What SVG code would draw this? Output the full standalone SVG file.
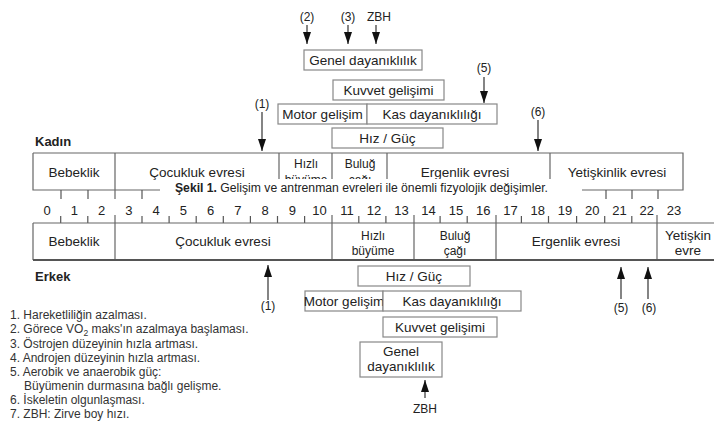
<svg xmlns="http://www.w3.org/2000/svg" width="714" height="429" viewBox="0 0 714 429">
  <defs>
    <marker id="arr" markerUnits="userSpaceOnUse" markerWidth="12" markerHeight="8" viewBox="0 0 12 8" refX="12" refY="4" orient="auto">
      <path d="M0,0 L12,4 L0,8 Z" fill="#111"/>
    </marker>
    <style>
      text { font-family: "Liberation Sans", Arial, sans-serif; fill: #222; }
      .box { fill: #fff; stroke: #888; stroke-width: 1.2; }
      .band { fill: none; stroke: #666; stroke-width: 1.2; }
      .tick { stroke: #555; stroke-width: 1.2; }
      .lbl { font-size: 13.5px; text-anchor: middle; }
      .bl { font-size: 13.5px; text-anchor: middle; }
      .bl2 { font-size: 12px; text-anchor: middle; }
      .num { font-size: 13px; text-anchor: middle; }
      .ref { font-size: 12px; text-anchor: middle; }
      .leg { font-size: 12px; fill: #333; }
      .sex { font-size: 13px; font-weight: bold; }
      .conn line { stroke: #333; stroke-width: 1.2; marker-end: url(#arr); }
    </style>
  </defs>
  <rect width="714" height="429" fill="#fff"/>

  <!-- Kadın (female) band -->
  <g id="band-kadin">
    <text class="sex" x="35" y="146">Kadın</text>
    <path class="band" d="M33,153 H683 V190 H582 M33,153 V190 H160 M115,153 V199 M279,153 V190 M332,153 V190 M387,153 V190 M550,153 V190"/>
    <text class="bl" x="74" y="177">Bebeklik</text>
    <text class="bl" x="197" y="177">Çocukluk evresi</text>
    <text class="bl2" x="306" y="168">Hızlı</text>
    <text class="bl2" x="306" y="184">büyüme</text>
    <text class="bl2" x="360" y="168">Buluğ</text>
    <text class="bl2" x="360" y="184">çağı</text>
    <text class="bl" x="465" y="177">Ergenlik evresi</text>
    <text class="bl" x="617" y="177">Yetişkinlik evresi</text>
    <path class="tick" d="M61,190 V199 M88,190 V199 M142,190 V199 M606,190 V199 M632,190 V199 M658,190 V199"/>
  </g>

  <!-- figure caption laid over the lower edge of the female band -->
  <g id="caption">
    <rect x="160" y="179" width="422" height="21" fill="#fff"/>
    <text x="175" y="192" font-size="12.5" textLength="373" lengthAdjust="spacingAndGlyphs"><tspan font-weight="bold">Şekil 1.</tspan>  Gelişim ve antrenman evreleri ile önemli fizyolojik değişimler.</text>
  </g>

  <!-- age axis -->
  <g id="axis">
    <text class="num" x="47" y="215">0</text>
    <text class="num" x="74.3" y="215">1</text>
    <text class="num" x="101.5" y="215">2</text>
    <text class="num" x="128.8" y="215">3</text>
    <text class="num" x="156" y="215">4</text>
    <text class="num" x="183.3" y="215">5</text>
    <text class="num" x="210.6" y="215">6</text>
    <text class="num" x="237.8" y="215">7</text>
    <text class="num" x="265.1" y="215">8</text>
    <text class="num" x="292.3" y="215">9</text>
    <text class="num" x="319.6" y="215">10</text>
    <text class="num" x="346.9" y="215">11</text>
    <text class="num" x="374.1" y="215">12</text>
    <text class="num" x="401.4" y="215">13</text>
    <text class="num" x="428.6" y="215">14</text>
    <text class="num" x="455.9" y="215">15</text>
    <text class="num" x="483.2" y="215">16</text>
    <text class="num" x="510.4" y="215">17</text>
    <text class="num" x="537.7" y="215">18</text>
    <text class="num" x="564.9" y="215">19</text>
    <text class="num" x="592.2" y="215">20</text>
    <text class="num" x="619.5" y="215">21</text>
    <text class="num" x="646.7" y="215">22</text>
    <text class="num" x="674" y="215">23</text>
    <path class="tick" d="M60.7,216 V223 M87.8,216 V223 M142,216 V223 M169.1,216 V223 M196.2,216 V223 M223.3,216 V223 M250.4,216 V223 M277.5,216 V223 M304.6,216 V223 M358.8,216 V223 M385.9,216 V223 M440.1,216 V223 M467.2,216 V223 M521.4,216 V223 M548.5,216 V223 M576.6,216 V223 M604.7,216 V223 M631.8,216 V223"/>
  </g>

  <!-- Erkek (male) band -->
  <g id="band-erkek">
    <path class="band" d="M33,223 H714 M33,223 V260 M115,215 V260 M332,215 V260 M414,215 V260 M496,215 V260 M657,215 V260"/>
    <path d="M33,260 H714" stroke="#555" stroke-width="1.8" fill="none"/>
    <text class="bl" x="74" y="246">Bebeklik</text>
    <text class="bl" x="223" y="246">Çocukluk evresi</text>
    <text class="bl2" x="373" y="240">Hızlı</text>
    <text class="bl2" x="373" y="255">büyüme</text>
    <text class="bl2" x="455" y="240">Buluğ</text>
    <text class="bl2" x="455" y="255">çağı</text>
    <text class="bl" x="576" y="246">Ergenlik evresi</text>
    <text class="bl" x="688" y="240">Yetişkin</text>
    <text class="bl" x="688" y="255">evre</text>
    <text class="sex" x="35" y="281">Erkek</text>
  </g>

  <!-- female capacity boxes -->
  <g id="k-genel">
    <rect class="box" x="304" y="50" width="118" height="20"/>
    <text class="lbl" x="363" y="65" font-size="12.5">Genel dayanıklılık</text>
  </g>
  <g id="k-kuvvet">
    <rect class="box" x="333" y="80" width="111" height="20"/>
    <text class="lbl" x="388.5" y="95">Kuvvet gelişimi</text>
  </g>
  <g id="k-motor">
    <rect class="box" x="278" y="104" width="89" height="20"/>
    <text class="lbl" x="322.5" y="119">Motor gelişim</text>
  </g>
  <g id="k-kas">
    <rect class="box" x="367" y="104" width="130" height="20"/>
    <text class="lbl" x="432" y="119">Kas dayanıklılığı</text>
  </g>
  <g id="k-hiz">
    <rect class="box" x="332" y="128" width="111" height="20"/>
    <text class="lbl" x="387.5" y="143">Hız / Güç</text>
  </g>

  <!-- male capacity boxes -->
  <g id="e-hiz">
    <rect class="box" x="358" y="266" width="112" height="20"/>
    <text class="lbl" x="414" y="281">Hız / Güç</text>
  </g>
  <g id="e-motor">
    <rect class="box" x="305" y="291" width="78" height="20"/>
    <text class="lbl" x="344" y="305.5" font-size="12">Motor gelişim</text>
  </g>
  <g id="e-kas">
    <rect class="box" x="383" y="291" width="138" height="20"/>
    <text class="lbl" x="452" y="306">Kas dayanıklılığı</text>
  </g>
  <g id="e-kuvvet">
    <rect class="box" x="383" y="317" width="114" height="20"/>
    <text class="lbl" x="440" y="332">Kuvvet gelişimi</text>
  </g>
  <g id="e-genel">
    <rect class="box" x="360" y="342" width="82" height="35"/>
    <text class="lbl" x="401" y="356">Genel</text>
    <text class="lbl" x="401" y="371">dayanıklılık</text>
  </g>

  <!-- marker labels -->
  <g id="markers">
    <text class="ref" x="307" y="20.5">(2)</text>
    <text class="ref" x="348" y="20.5">(3)</text>
    <text class="ref" x="379" y="20.5" font-size="13">ZBH</text>
    <text class="ref" x="484" y="72">(5)</text>
    <text class="ref" x="262" y="108">(1)</text>
    <text class="ref" x="538" y="116">(6)</text>
    <text class="ref" x="268" y="310">(1)</text>
    <text class="ref" x="621" y="312">(5)</text>
    <text class="ref" x="649" y="312">(6)</text>
    <text class="ref" x="425" y="413" font-size="13">ZBH</text>
  </g>

  <!-- arrows -->
  <g id="connectors" class="conn">
    <line x1="307" y1="25" x2="307" y2="44"/>
    <line x1="348" y1="25" x2="348" y2="44"/>
    <line x1="376" y1="25" x2="376" y2="44"/>
    <line x1="484" y1="77" x2="484" y2="103"/>
    <line x1="262" y1="112" x2="262" y2="151"/>
    <line x1="538" y1="120" x2="538" y2="151"/>
    <line x1="268" y1="300" x2="268" y2="265"/>
    <line x1="621" y1="299" x2="621" y2="267"/>
    <line x1="648" y1="299" x2="648" y2="267"/>
    <line x1="425" y1="398" x2="425" y2="380"/>
  </g>

  <!-- legend -->
  <g id="legend">
    <text class="leg" x="10" y="319">1. Hareketliliğin azalması.</text>
    <text class="leg" x="10" y="333">2. Görece VO<tspan font-size="8.5" dy="2.5">2</tspan><tspan dy="-2.5"> maks'ın azalmaya başlaması.</tspan></text>
    <text class="leg" x="10" y="348">3. Östrojen düzeyinin hızla artması.</text>
    <text class="leg" x="10" y="362">4. Androjen düzeyinin hızla artması.</text>
    <text class="leg" x="10" y="376">5. Aerobik ve anaerobik güç:</text>
    <text class="leg" x="24" y="390">Büyümenin durmasına bağlı gelişme.</text>
    <text class="leg" x="10" y="404">6. İskeletin olgunlaşması.</text>
    <text class="leg" x="10" y="418">7. ZBH: Zirve boy hızı.</text>
  </g>
</svg>
